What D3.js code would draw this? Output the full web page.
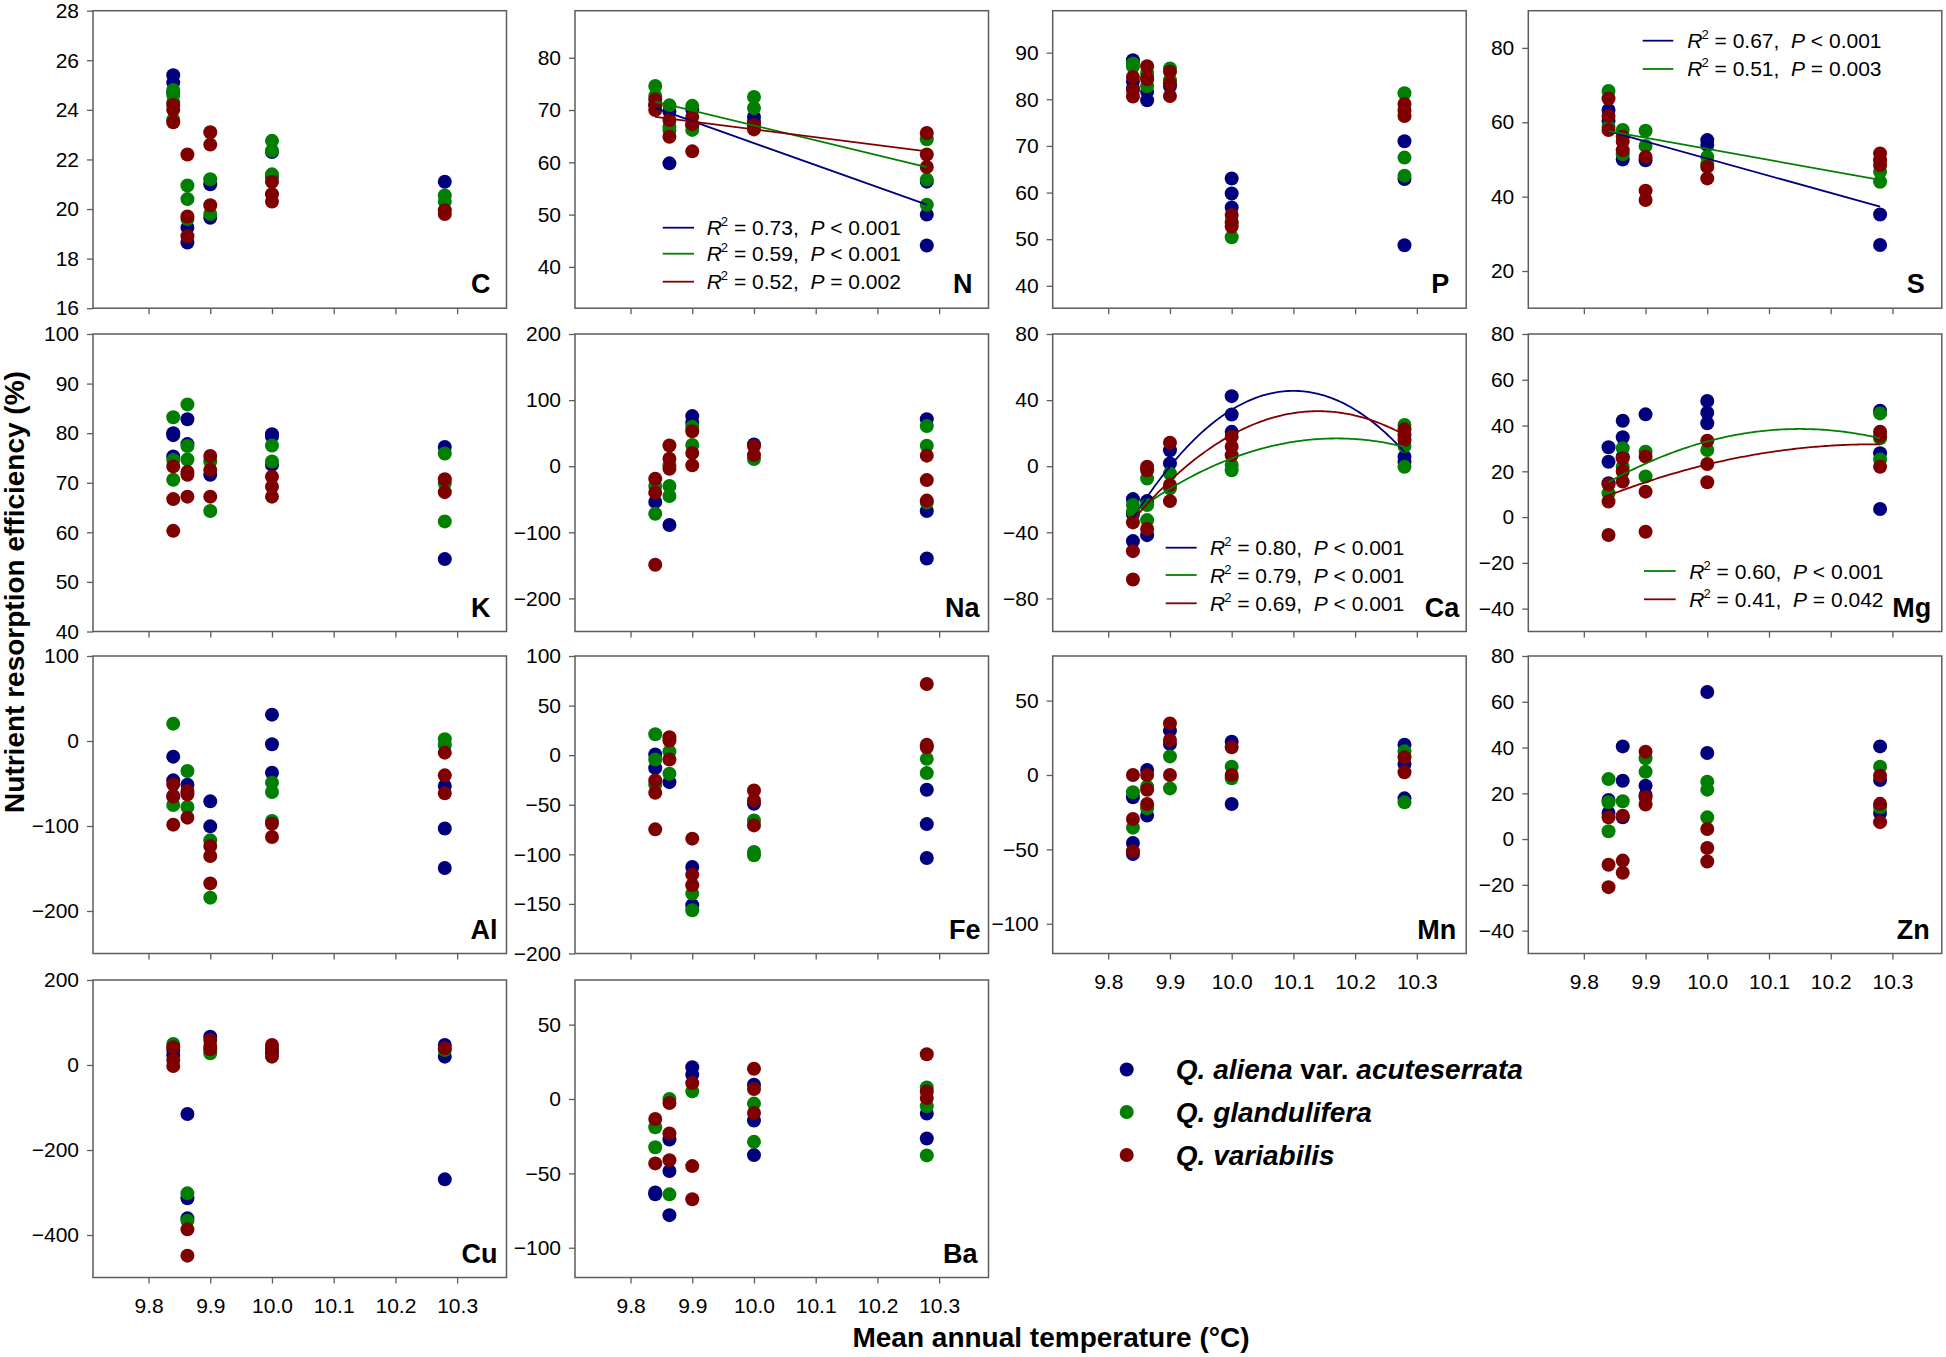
<!DOCTYPE html>
<html><head><meta charset="utf-8">
<script src="https://cdn.jsdelivr.net/npm/d3@7"></script>
<style>
body{margin:0;background:#fff}
text{font-family:"Liberation Sans",Arial,Helvetica,sans-serif}
</style>
</head><body>
<svg id="chart" width="1946" height="1357"></svg>
<script>
// ---------- DATA ----------
const sites = [9.84, 9.863, 9.9, 10.0, 10.28];
const xTickValues = [9.8, 9.9, 10.0, 10.1, 10.2, 10.3];
const species = ["Q. aliena var. acuteserrata", "Q. glandulifera", "Q. variabilis"];

// values per site (5 sites), per species: alien, gland, var
const C_alien = [[25.4,25.1,24.7],[19.25,18.65],[21.0,19.65],[22.3,21.3],[21.1]];
const C_gland = [[24.8,24.6,24.3,23.6],[20.95,20.4,19.6],[21.2,19.8],[22.75,22.35,21.4],[20.55,20.3]];
const C_var   = [[24.2,24.0,23.5],[22.2,19.7,18.9],[23.1,22.6,20.15],[21.1,20.6,20.3],[19.95,19.8]];

const N_alien = [[71.0],[69.7,59.8],[70.1,67.0],[68.7,67.75],[56.3,50.0,44.1]];
const N_gland = [[74.6,72.7],[70.9,66.8,66.2],[70.8,66.2],[72.5,70.4],[64.4,56.7,51.9]];
const N_var   = [[72.0,70.9,70.0],[68.1,64.9],[68.7,67.3,62.1],[67.1,66.3],[65.6,61.5,59.1]];
const N_fit   = [[70.4,51.9],[71.6,59.1],[68.7,62.1]];   // linear fits: value at 9.84, value at 10.28
const N_stats = [["0.73","<","0.001"],["0.59","<","0.001"],["0.52","=","0.002"]];

const P_alien = [[88.4,83.8,82.3],[81.6,79.8],[82.8],[63.0,59.8,56.8],[71.0,62.9,48.7]];
const P_gland = [[87.7,87.0],[85.6,82.8],[86.6,84.1],[53.5,50.4],[81.3,67.5,63.6]];
const P_var   = [[84.8,82.0,80.6],[87.1,84.6,84.3],[85.9,83.4,80.7],[55.2,53.7,52.7],[79.0,77.6,76.4]];

const S_alien = [[63.3,60.4],[50.0],[49.8],[55.2,53.9],[35.2,27.0]];
const S_gland = [[68.4,58.8],[57.9,51.4],[57.7,53.6],[50.7,48.7],[46.7,44.0]];
const S_var   = [[66.4,61.7,57.9],[56.1,54.8,52.5],[50.7,41.6,39.1],[48.0,44.9],[51.6,49.8,48.5]];
const S_fit   = [[57.6,37.3],[57.6,44.5],null];
const S_stats = [["0.67","<","0.001"],["0.51","=","0.003"],null];

const K_alien = [[80.0,79.6,75.3],[82.8,77.8],[71.6],[79.8,79.3,73.6],[77.2,54.6]];
const K_gland = [[83.2,74.6,70.6],[85.8,77.4,74.7],[74.3,64.3],[77.5,74.3],[75.9,69.9,62.2]];
const K_var   = [[73.3,66.7,60.3],[72.2,71.6,67.2],[75.4,72.6,67.2],[71.2,69.2,67.2],[70.7,68.1]];

const Na_alien = [[-54],[-89],[75.8,65.7],[33],[71,-67.7,-139.5]];
const Na_gland = [[-30,-72],[1.3,-30,-45],[59.7,32],[11],[60.7,31,-55]];
const Na_var   = [[-19,-40,-149],[31.4,11.3,-3.8],[53,20,1.3],[30.6,16.8],[16,-21,-52]];

const Ca_alien = [[-19.9,-29,-45.3],[-21.1,-41.7],[9.7,1.7],[42.4,31.3,20.8],[5.7,2.7]];
const Ca_gland = [[-23.5,-27.6],[-7.4,-23.5,-32.6],[-4.4,-13.4],[0.7,-2.4],[24.9,12.2,-0.3]];
const Ca_var   = [[-34,-51.4,-68.5],[-0.3,-2.4,-38],[14.2,-11.4,-21.1],[17.8,11.8,6.7],[22.3,18.8,15.8]];
const Ca_quad  = [[10.10,45.6,1142],[10.17,16.8,417],[10.14,33.3,732]]; // quadratic fits: vertex x, vertex y, curvature
const Ca_stats = [["0.80","<","0.001"],["0.79","<","0.001"],["0.69","<","0.001"]];

const Mg_alien = [[30.5,24.2,14.8],[42.1,34.9,26.4],[44.9],[50.7,45.6,41.0],[46.5,27.9,3.5]];
const Mg_gland = [[10.4],[30.1,22.0],[28.6,17.7],[29.3],[45.3,34.4,25.2]];
const Mg_var   = [[14.3,6.8,-7.8],[25.7,19.9,15.5],[26.4,11.1,-6.4],[33.4,23.2,15.2],[37.3,35.4,22.0]];
const Mg_quad  = [null,[10.15,38.5,242],[10.27,31.8,121]];
const Mg_stats = [null,["0.60","<","0.001"],["0.41","=","0.042"]];

const Al_alien = [[-18.4,-46.3,-64.7],[-51.4],[-71,-100.4],[31,-3.9,-37.3],[-53,-103,-149.4]];
const Al_gland = [[20.4,-75.3],[-35.3,-77.6],[-116.9,-184.3],[-49,-60,-94],[2,-5]];
const Al_var   = [[-51,-65.5,-98.4],[-58.8,-62.7,-90.2],[-123.5,-135.3,-167.5],[-97.3,-113],[-13.7,-40.4,-61.6]];

const Fe_alien = [[0.7,-13.1],[-27.2],[-112.8,-151.3],[-49],[-34.9,-69.5,-103.7]];
const Fe_gland = [[21.1,-4.4,-29.9],[3.7,-18.8],[-139.6,-156.4],[-65.8,-97.7,-101],[-3.7,-18.1]];
const Fe_var   = [[-25.5,-37.9,-74.8],[18.1,14.8,-4.4],[-84.2,-120.5,-131.2],[-35.6,-45.6,-70.8],[71.8,10.4,8]];

const Mn_alien = [[-15,-45.7,-53.1],[3.4,-27.3],[29.8,20.8],[22.4,-19.5],[20.4,7.4,-15.7]];
const Mn_gland = [[-11.6,-35.4],[-7.8,-22.4],[12.5,-9],[5.6,-2.2],[15.9,-18.4]];
const Mn_var   = [[0,-29.6,-51.3],[0,-9.9,-19.5],[34.7,23.5,0],[18.6,0],[11.9,1.8]];

const Zn_alien = [[17.1,11.4],[40.5,25.5,9.5],[23.3,19.3],[64.3,37.6],[40.5,25.8,11.4]];
const Zn_gland = [[26.2,16.1,3.4],[16.5],[35.3,29.4],[25.1,21.6,9.5],[31.6,13.9]];
const Zn_var   = [[9.5,-11.2,-21],[10.2,-9.4,-14.7],[38.2,18.3,15.1],[4.4,-3.9,-9.8],[27.7,15.4,7.4]];

const Cu_alien = [[35.3,23.5],[-115.3,-313.7,-360.8],[66.7],[29],[47.1,19.6,-269]];
const Cu_gland = [[49.4],[-302,-366.3],[27.5],[39.2],[35.3]];
const Cu_var   = [[41.6,11.8,-2.4],[-386.7,-448.6],[58.8,44.7,36.9],[47.1,35.3,19.6],[39.2]];

const Ba_alien = [[-62.9,-64.1],[-27.2,-48.4,-78.1],[21.4,16.3],[9.6,-14.5,-37.7],[-9.8,-26.6]];
const Ba_gland = [[-19,-32.4],[0,-64.1],[5.1],[-3.1,-28.8],[7.8,-4.9,-37.9]];
const Ba_var   = [[-13.4,-43.3],[-2.7,-23.2,-41.1],[10.7,-45.1,-67.4],[20.3,6.7,-9.4],[30.1,5.1,0.7]];

// ---------- LAYOUT ----------
const colors = ["#00007f", "#007f00", "#7f0000"];
const frameColor = "#5c5c5c";
const colX = [93, 575, 1052.7, 1528.3];
const rowY = [10.7, 334, 656, 980];
const PW = 413.5, PH = 297.5;
const xDomain = [9.71, 10.38];

const panels = [
  {name:"C",  r:0,c:0, dom:[16,28],      ticks:d3.range(16,29,2),       data:[C_alien,C_gland,C_var],   inset:16},
  {name:"N",  r:0,c:1, dom:[32.1,89],    ticks:d3.range(40,81,10),      data:[N_alien,N_gland,N_var],   inset:16,
     lin:N_fit, stats:N_stats, leg:{x1:87.7,x2:119,tx:131.7,ys:[217,243,271]}},
  {name:"P",  r:0,c:2, dom:[35.2,99],    ticks:d3.range(40,91,10),      data:[P_alien,P_gland,P_var],   inset:17},
  {name:"S",  r:0,c:3, dom:[10,90],      ticks:d3.range(20,81,20),      data:[S_alien,S_gland,S_var],   inset:17,
     lin:S_fit, stats:S_stats, leg:{x1:114.4,x2:145,tx:159,ys:[30,58.3]}},
  {name:"K",  r:1,c:0, dom:[40,100],     ticks:d3.range(40,101,10),     data:[K_alien,K_gland,K_var],   inset:16},
  {name:"Na", r:1,c:1, dom:[-250,200],   ticks:d3.range(-200,201,100),  data:[Na_alien,Na_gland,Na_var],inset:9},
  {name:"Ca", r:1,c:2, dom:[-100,80],    ticks:d3.range(-80,81,40),     data:[Ca_alien,Ca_gland,Ca_var],inset:7,
     quad:Ca_quad, stats:Ca_stats, leg:{x1:113,x2:144,tx:157.3,ys:[213.7,241,269.3]}},
  {name:"Mg", r:1,c:3, dom:[-50,80],     ticks:d3.range(-40,81,20),     data:[Mg_alien,Mg_gland,Mg_var],inset:10.5,
     quad:Mg_quad, stats:Mg_stats, leg:{x1:115.7,x2:147.4,tx:161,ys:[null,237,265.3]}},
  {name:"Al", r:2,c:0, dom:[-250,100],   ticks:d3.range(-200,101,100),  data:[Al_alien,Al_gland,Al_var],inset:9},
  {name:"Fe", r:2,c:1, dom:[-200,100],   ticks:d3.range(-200,101,50),   data:[Fe_alien,Fe_gland,Fe_var],inset:8},
  {name:"Mn", r:2,c:2, dom:[-120,80],    ticks:d3.range(-100,51,50),    data:[Mn_alien,Mn_gland,Mn_var],inset:10, xlab:true},
  {name:"Zn", r:2,c:3, dom:[-50,80],     ticks:d3.range(-40,81,20),     data:[Zn_alien,Zn_gland,Zn_var],inset:12, xlab:true},
  {name:"Cu", r:3,c:0, dom:[-500,200],   ticks:d3.range(-400,201,200),  data:[Cu_alien,Cu_gland,Cu_var],inset:9,  xlab:true},
  {name:"Ba", r:3,c:1, dom:[-120,80],    ticks:d3.range(-100,51,50),    data:[Ba_alien,Ba_gland,Ba_var],inset:11, xlab:true}
];

const svg = d3.select("#chart");
const fmtY = d3.format("d");
const fmtX = d3.format(".1f");

panels.forEach(p => {
  const g = svg.append("g").attr("transform", `translate(${colX[p.c]},${rowY[p.r]})`);
  const x = d3.scaleLinear().domain(xDomain).range([0, PW]);
  const y = d3.scaleLinear().domain(p.dom).range([PH, 0]);

  // axes
  const ya = g.append("g").call(d3.axisLeft(y).tickValues(p.ticks).tickSize(6).tickPadding(8).tickFormat(fmtY));
  const xa = g.append("g").attr("transform", `translate(0,${PH})`)
    .call(d3.axisBottom(x).tickValues(xTickValues).tickSize(6).tickPadding(15)
      .tickFormat(p.xlab ? fmtX : () => ""));
  [ya, xa].forEach(a => {
    a.select(".domain").remove();
    a.selectAll(".tick line").attr("stroke", frameColor).attr("stroke-width", 1.3);
    a.selectAll(".tick text").attr("fill", "#000").style("font-size", "21px")
      .style("font-family", '"Liberation Sans",Arial,sans-serif');
  });

  // frame
  g.append("rect").attr("x", 0).attr("y", 0).attr("width", PW).attr("height", PH)
    .attr("fill", "none").attr("stroke", frameColor).attr("stroke-width", 1.5);

  // points
  p.data.forEach((sp, si) => {
    const pts = [];
    sp.forEach((vals, k) => vals.forEach(v => pts.push([sites[k], v])));
    g.append("g").selectAll("circle").data(pts).join("circle")
      .attr("cx", d => x(d[0])).attr("cy", d => y(d[1])).attr("r", 7)
      .attr("fill", colors[si]);
  });

  // fits
  const x0 = sites[0], x1 = sites[sites.length - 1];
  if (p.lin) p.lin.forEach((f, si) => {
    if (!f) return;
    g.append("line").attr("x1", x(x0)).attr("y1", y(f[0])).attr("x2", x(x1)).attr("y2", y(f[1]))
      .attr("stroke", colors[si]).attr("stroke-width", 1.8);
  });
  if (p.quad) p.quad.forEach((f, si) => {
    if (!f) return;
    const xs = d3.range(x0, x1 + 1e-9, 0.004);
    const line = d3.line().x(d => x(d)).y(d => y(f[1] - f[2] * (d - f[0]) * (d - f[0])));
    g.append("path").attr("d", line(xs)).attr("fill", "none")
      .attr("stroke", colors[si]).attr("stroke-width", 1.8);
  });

  // in-panel legend
  if (p.stats) p.stats.forEach((s, si) => {
    if (!s) return;
    const yy = p.leg.ys[si];
    g.append("line").attr("x1", p.leg.x1).attr("x2", p.leg.x2).attr("y1", yy).attr("y2", yy)
      .attr("stroke", colors[si]).attr("stroke-width", 1.8);
    const t = g.append("text").attr("x", p.leg.tx).attr("y", yy + 7.5).style("font-size", "21px").attr("fill", "#000");
    t.append("tspan").style("font-style", "italic").text("R");
    t.append("tspan").attr("dy", -9).attr("dx", -1).style("font-size", "13px").text("2");
    t.append("tspan").attr("dy", 9).text(" = " + s[0] + ",\u00a0 ");
    t.append("tspan").style("font-style", "italic").text("P");
    t.append("tspan").text(" " + s[1] + " " + s[2]);
  });

  // panel name
  g.append("text").attr("x", PW - p.inset).attr("y", PH - 15).attr("text-anchor", "end")
    .style("font-size", "27px").style("font-weight", "bold").attr("fill", "#000").text(p.name);
});

// axis titles
svg.append("text").attr("transform", "translate(24,592) rotate(-90)").attr("text-anchor", "middle")
  .style("font-size", "28px").style("font-weight", "bold").text("Nutrient resorption efficiency (%)");
svg.append("text").attr("x", 1051).attr("y", 1347).attr("text-anchor", "middle")
  .style("font-size", "28px").style("font-weight", "bold").text("Mean annual temperature (°C)");

// species legend
const legY = [1069.5, 1112, 1155];
species.forEach((name, i) => {
  svg.append("circle").attr("cx", 1126.7).attr("cy", legY[i]).attr("r", 7).attr("fill", colors[i]);
  const t = svg.append("text").attr("x", 1175.8).attr("y", legY[i] + 9.5)
    .style("font-size", "28px").style("font-weight", "bold");
  const parts = name.split(" var. ");
  t.append("tspan").style("font-style", "italic").text(parts[0]);
  if (parts.length > 1) {
    t.append("tspan").text(" var. ");
    t.append("tspan").style("font-style", "italic").text(parts[1]);
  }
});
</script>
</body></html>
